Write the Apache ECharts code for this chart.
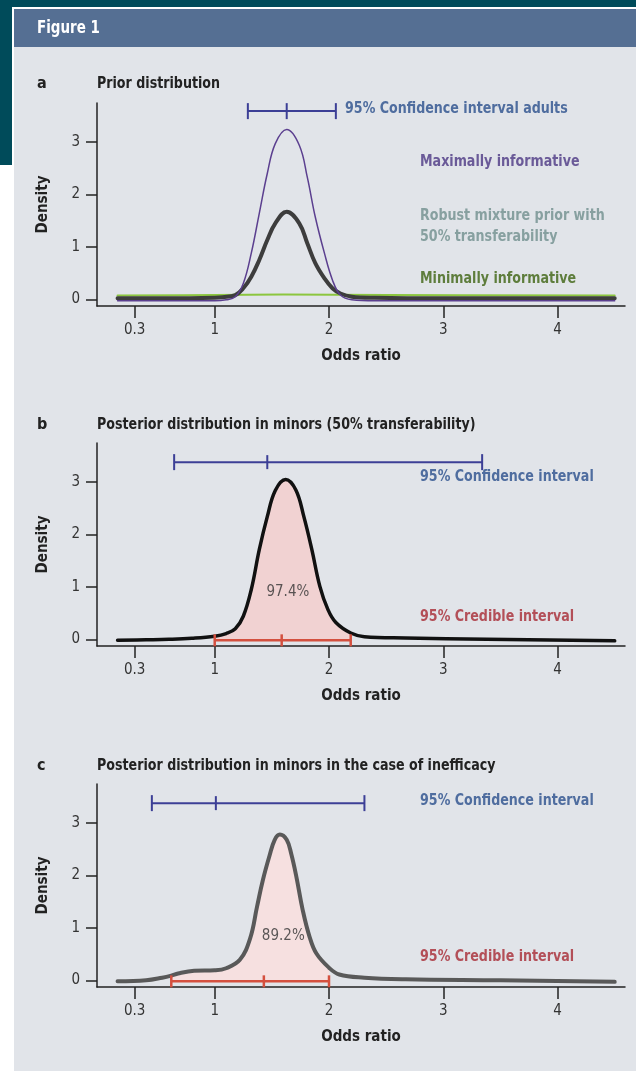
<!DOCTYPE html>
<html>
<head>
<meta charset="utf-8">
<script src="https://cdn.jsdelivr.net/npm/echarts@6/dist/echarts.min.js"></script>
<style>
  html, body { margin: 0; padding: 0; background: #fff; }
  #chart { width: 636px; height: 1071px; }
</style>
</head>
<body>
<div id="chart"></div>
<script>
// axis ticks
const xTicks = [0.3, 1, 2, 3, 4]
const yTicks = [0, 1, 2, 3]

// panel a: prior distributions [odds ratio, density]
const priorMaximal = [
  [0.15, -0.03], [0.6, -0.03], [1.0, -0.03], [1.1, -0.01], [1.18, 0.05], [1.25, 0.3],
  [1.32, 0.88], [1.39, 1.64], [1.46, 2.4], [1.53, 2.97], [1.63, 3.24], [1.74, 2.94],
  [1.81, 2.33], [1.88, 1.57], [1.96, 0.88], [2.03, 0.37], [2.1, 0.08], [2.2, -0.01],
  [2.4, -0.03], [3.0, -0.03], [4.5, -0.03]
]
const priorRobust = [
  [0.15, 0.02], [0.6, 0.02], [1.0, 0.03], [1.07, 0.04], [1.18, 0.08], [1.25, 0.21],
  [1.32, 0.43], [1.39, 0.75], [1.46, 1.13], [1.53, 1.45], [1.63, 1.67], [1.74, 1.45],
  [1.81, 1.07], [1.88, 0.69], [1.96, 0.4], [2.03, 0.21], [2.1, 0.11], [2.2, 0.05],
  [2.4, 0.03], [3.0, 0.02], [4.5, 0.02]
]
const priorMinimal = [[0.15, 0.07], [1.0, 0.08], [1.6, 0.09], [2.5, 0.08], [4.5, 0.07]]
const ciAdults = [1.29, 1.63, 2.06, 3.59] // low, estimate, high, height

// panel b: posterior, 50% transferability
const postB = [
  [0.15, -0.02], [0.4, -0.01], [0.6, 0.0], [0.8, 0.02], [1.0, 0.06], [1.1, 0.11],
  [1.18, 0.2], [1.25, 0.44], [1.32, 0.95], [1.39, 1.71], [1.46, 2.34], [1.53, 2.84],
  [1.62, 3.05], [1.71, 2.85], [1.78, 2.34], [1.85, 1.71], [1.92, 1.01], [1.99, 0.57],
  [2.06, 0.32], [2.19, 0.12], [2.31, 0.05], [2.67, 0.025], [3.38, 0.0], [4.5, -0.03]
]
const ciB = [0.645, 1.46, 3.34, 3.38]
const criB = [1.0, 1.586, 2.19, -0.02]
const probB = [1.64, 0.9, '97.4%']

// panel c: posterior in the case of inefficacy
const postC = [
  [0.15, -0.02], [0.4, 0.0], [0.54, 0.05], [0.62, 0.09], [0.68, 0.13], [0.82, 0.18],
  [1.0, 0.19], [1.1, 0.23], [1.22, 0.39], [1.31, 0.8], [1.37, 1.4], [1.42, 1.9],
  [1.48, 2.38], [1.525, 2.68], [1.57, 2.78], [1.63, 2.68], [1.67, 2.41], [1.715, 1.97],
  [1.77, 1.34], [1.83, 0.83], [1.89, 0.51], [2.0, 0.24], [2.09, 0.11],
  [2.31, 0.05], [2.67, 0.02], [3.5, 0.0], [4.5, -0.03]
]
const ciC = [0.45, 1.01, 2.31, 3.38]
const criC = [0.62, 1.43, 2.0, -0.02]
const probC = [1.6, 0.84, '89.2%']

const FONT = "'Liberation Sans Narrow', 'Arial Narrow', 'DejaVu Sans Condensed', sans-serif"
const gridTops = [103, 443, 784]

const chart = echarts.init(document.getElementById('chart'))

function intervalSeries(idx, iv, color, cap, midCap, width) {
  return {
    type: 'custom',
    xAxisIndex: idx,
    yAxisIndex: idx,
    z: 5,
    encode: { x: [0, 1, 2], y: 3 },
    data: [iv],
    renderItem: function(params, api) {
      const y = api.value(3)
      const a = api.coord([api.value(0), y])
      const m = api.coord([api.value(1), y])
      const b = api.coord([api.value(2), y])
      const st = { stroke: color, lineWidth: width }
      const tick = (p, h) => ({ type: 'line', shape: { x1: p[0], y1: p[1] - h / 2, x2: p[0], y2: p[1] + h / 2 }, style: st })
      return {
        type: 'group',
        children: [
          { type: 'line', shape: { x1: a[0], y1: a[1], x2: b[0], y2: b[1] }, style: st },
          tick(a, cap), tick(m, midCap), tick(b, cap)
        ]
      }
    }
  }
}

function lineSeries(idx, data, color, width, z) {
  return {
    type: 'line',
    xAxisIndex: idx,
    yAxisIndex: idx,
    data: data,
    smooth: 0.4,
    showSymbol: false,
    z: z,
    lineStyle: { color: color, width: width, cap: 'round', join: 'round' }
  }
}

function fillSeries(idx, curve, cri, color) {
  return {
    type: 'line',
    xAxisIndex: idx,
    yAxisIndex: idx,
    data: curve.filter(p => p[0] >= cri[0] && p[0] <= cri[2]),
    smooth: 0.4,
    showSymbol: false,
    z: 1,
    lineStyle: { width: 0 },
    areaStyle: { color: color, opacity: 1 }
  }
}

function probLabel(idx, p) {
  return {
    type: 'scatter',
    xAxisIndex: idx,
    yAxisIndex: idx,
    symbolSize: 0,
    z: 6,
    data: [[p[0], p[1]]],
    label: {
      show: true, position: 'inside', formatter: p[2],
      color: '#333', fontSize: 15, fontFamily: FONT
    }
  }
}

const grids = gridTops.map(t => ({ left: 97, top: t, width: 528, height: 203 }))
const xAxes = gridTops.map((t, i) => ({
  type: 'value', gridIndex: i, min: -0.03, max: 4.59,
  name: 'Odds ratio', nameLocation: 'middle', nameGap: 43,
  nameTextStyle: { color: '#222', fontSize: 15, fontWeight: 'bold', fontFamily: FONT },
  axisLine: { onZero: false, lineStyle: { color: '#222', width: 1.5 } },
  axisTick: { length: 12, customValues: xTicks, lineStyle: { color: '#222', width: 1.5 } },
  axisLabel: { customValues: xTicks, margin: 17, color: '#333', fontSize: 15, fontFamily: FONT },
  splitLine: { show: false }
}))
const yAxes = gridTops.map((t, i) => ({
  type: 'value', gridIndex: i, min: -0.128, max: 3.745,
  name: 'Density', nameLocation: 'middle', nameGap: 46, nameRotate: 90,
  nameTextStyle: { color: '#222', fontSize: 15, fontWeight: 'bold', fontFamily: FONT },
  axisLine: { show: true, onZero: false, lineStyle: { color: '#222', width: 1.5 } },
  axisTick: { show: true, length: 11, customValues: yTicks, lineStyle: { color: '#222', width: 1.5 } },
  axisLabel: { customValues: yTicks, margin: 17, color: '#333', fontSize: 15, fontFamily: FONT },
  splitLine: { show: false }
}))

// condensed look: squeeze text horizontally
function txt(text, x, y, color, size, bold, sx) {
  return {
    type: 'text', x: x, y: y, z: 10, scaleX: sx || 0.88,
    style: {
      text: text, x: 0, y: 0, fill: color, align: 'left', verticalAlign: 'middle',
      font: (bold ? 'bold ' : '') + size + 'px ' + FONT
    }
  }
}

const ciText = '#4f6d9f'
const criText = '#b34f58'

const option = {
  animation: false,
  backgroundColor: '#fff',
  graphic: [
    { type: 'rect', z: -10, shape: { x: 0, y: 0, width: 636, height: 7 }, style: { fill: '#004b5a' } },
    { type: 'rect', z: -10, shape: { x: 0, y: 0, width: 12, height: 165 }, style: { fill: '#004b5a' } },
    { type: 'rect', z: -9, shape: { x: 14, y: 9, width: 622, height: 1062 }, style: { fill: '#e1e4e9' } },
    { type: 'rect', z: -8, shape: { x: 14, y: 9, width: 622, height: 38 }, style: { fill: '#556f93' } },
    txt('Figure 1', 37, 29, '#fff', 17, true),

    txt('a', 37, 84, '#222', 16, true, 1),
    txt('Prior distribution', 97, 84, '#222', 16, true),
    txt('95% Confidence interval adults', 345, 109, ciText, 16, true),
    txt('Maximally informative', 420, 162, '#6a5a98', 16, true),
    txt('Robust mixture prior with', 420, 216, '#87a0a0', 16, true),
    txt('50% transferability', 420, 237, '#87a0a0', 16, true),
    txt('Minimally informative', 420, 279, '#5e7d3c', 16, true),

    txt('b', 37, 425, '#222', 16, true, 1),
    txt('Posterior distribution in minors (50% transferability)', 97, 425, '#222', 16, true),
    txt('95% Confidence interval', 420, 477, ciText, 16, true),
    txt('95% Credible interval', 420, 617, criText, 16, true),

    txt('c', 37, 766, '#222', 16, true, 1),
    txt('Posterior distribution in minors in the case of inefficacy', 97, 766, '#222', 16, true),
    txt('95% Confidence interval', 420, 801, ciText, 16, true),
    txt('95% Credible interval', 420, 957, criText, 16, true)
  ],
  grid: grids,
  xAxis: xAxes,
  yAxis: yAxes,
  series: [
    lineSeries(0, priorMinimal, '#8cc63f', 2, 2),
    lineSeries(0, priorRobust, '#3d3d3d', 4, 3),
    lineSeries(0, priorMaximal, '#5b3f8f', 1.5, 4),
    intervalSeries(0, ciAdults, '#3c3f96', 16, 16, 2),

    fillSeries(1, postB, criB, '#f1d2d2'),
    lineSeries(1, postB, '#111', 3.5, 3),
    intervalSeries(1, ciB, '#3c3f96', 16, 14, 2),
    intervalSeries(1, criB, '#d4503f', 12, 12, 2.5),
    probLabel(1, probB),

    fillSeries(2, postC, criC, '#f6e0e0'),
    lineSeries(2, postC, '#595959', 4, 3),
    intervalSeries(2, ciC, '#3c3f96', 16, 14, 2),
    intervalSeries(2, criC, '#d4503f', 12, 12, 2.5),
    probLabel(2, probC)
  ]
}

chart.setOption(option)
</script>
</body>
</html>
